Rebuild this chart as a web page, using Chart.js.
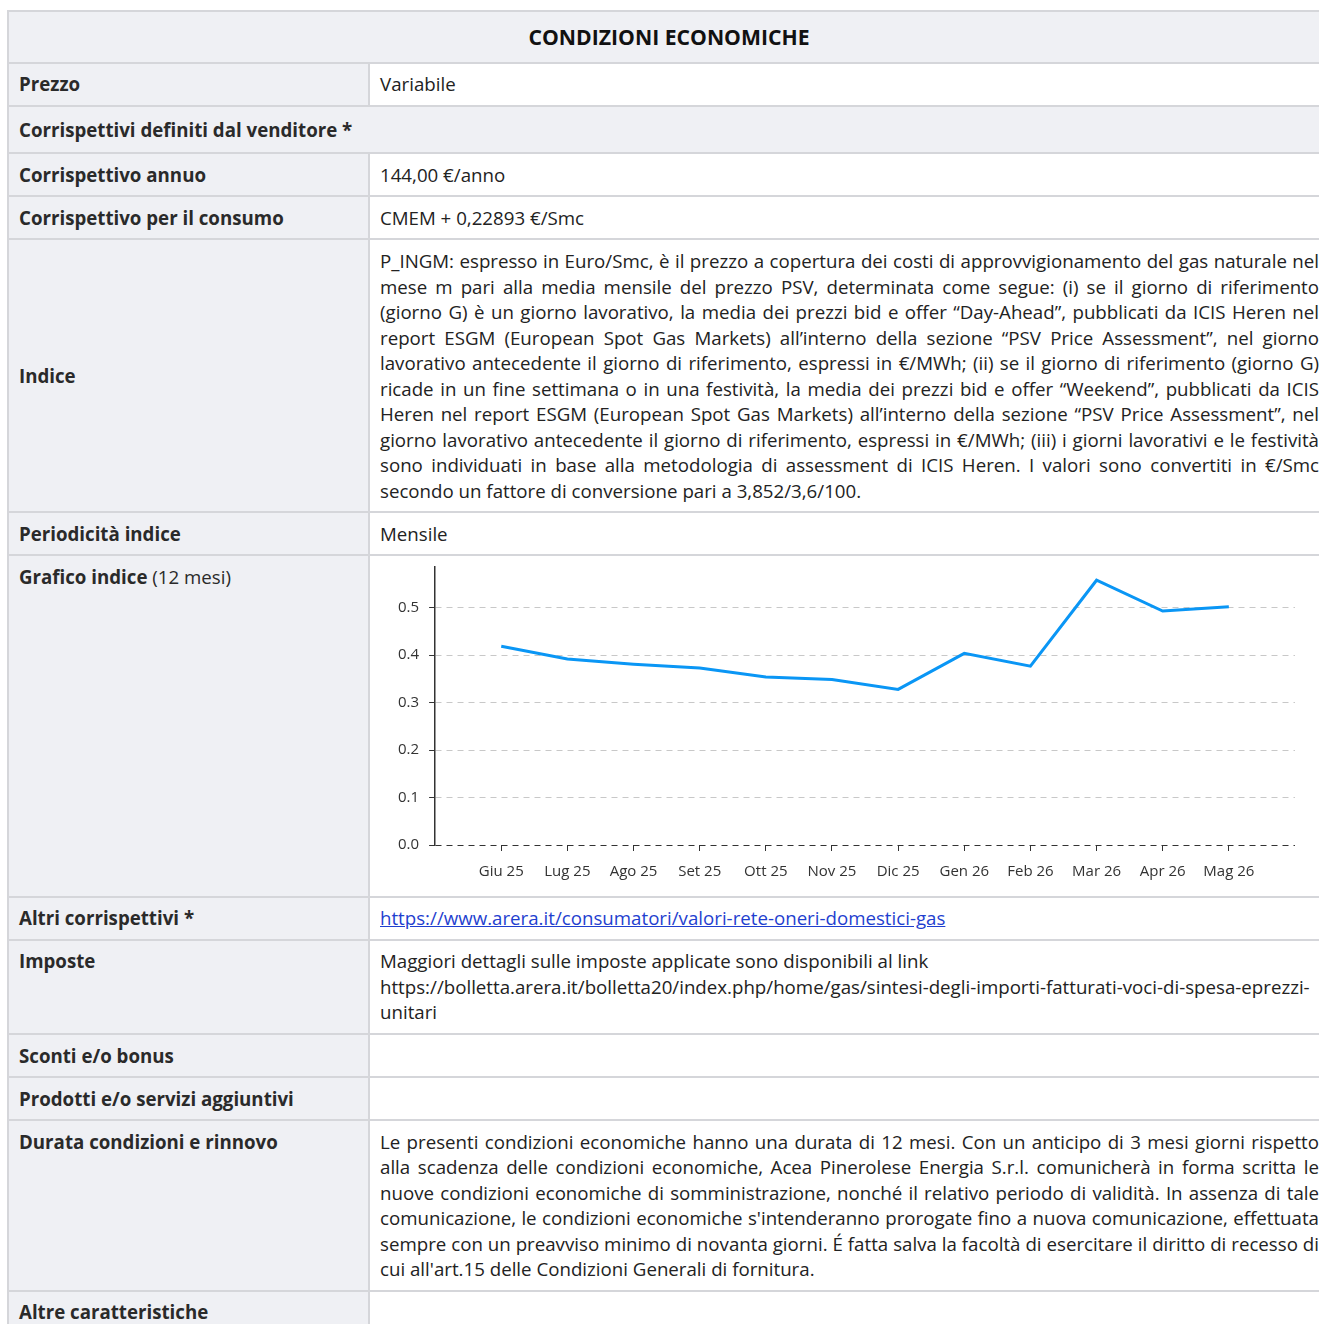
<!DOCTYPE html>
<html lang="it">
<head>
<meta charset="utf-8">
<title>Condizioni economiche</title>
<script src="https://cdn.jsdelivr.net/npm/chart.js@4.4.1/dist/chart.umd.min.js"></script>
<style>
  html, body { margin: 0; padding: 0; overflow: hidden; background: #fff; }
  body { font-family: "Open Sans", sans-serif; color: #222; font-size: 18.7px; line-height: 25.5px; }
  table { border-collapse: collapse; width: 1322px; margin: 10px 0 0 7px; table-layout: fixed; }
  col.c1 { width: 361px; }
  col.c2 { width: 961px; }
  td, th { border: 2px solid #d5d6da; padding: 7.8px 10px 7.8px 10px; vertical-align: top; text-align: left; }
  th.title { background: #eff0f4; text-align: center; font-size: 21.2px; font-weight: 700; padding: 12px 10px 12px; color: #111; }
  td.lbl { background: #eff0f4; font-weight: 700; color: #2a2a2a; }
  td.lbl span { font-weight: 400; }
  td.sect { background: #eff0f4; font-weight: 700; padding: 10px 10px 10px; color: #2a2a2a; }
  td.mid { vertical-align: middle; }
  .just { text-align: justify; }
  a { color: #1f3fcf; }
  .chartbox { position: relative; width: 939px; height: 324px; }
  .chartinner { position: absolute; left: 0; top: -16px; width: 939px; height: 349px; }
</style>
</head>
<body>
<table>
  <colgroup><col class="c1"><col class="c2"></colgroup>
  <tr><th class="title" colspan="2">CONDIZIONI ECONOMICHE</th></tr>
  <tr><td class="lbl">Prezzo</td><td>Variabile</td></tr>
  <tr><td class="sect" colspan="2">Corrispettivi definiti dal venditore *</td></tr>
  <tr><td class="lbl">Corrispettivo annuo</td><td>144,00 €/anno</td></tr>
  <tr><td class="lbl">Corrispettivo per il consumo</td><td>CMEM + 0,22893 €/Smc</td></tr>
  <tr><td class="lbl mid">Indice</td><td class="just">P_INGM: espresso in Euro/Smc, è il prezzo a copertura dei costi di approvvigionamento del gas naturale nel mese m pari alla media mensile del prezzo PSV, determinata come segue: (i) se il giorno di riferimento (giorno G) è un giorno lavorativo, la media dei prezzi bid e offer “Day-Ahead”, pubblicati da ICIS Heren nel report ESGM (European Spot Gas Markets) all’interno della sezione “PSV Price Assessment”, nel giorno lavorativo antecedente il giorno di riferimento, espressi in €/MWh; (ii) se il giorno di riferimento (giorno G) ricade in un fine settimana o in una festività, la media dei prezzi bid e offer “Weekend”, pubblicati da ICIS Heren nel report ESGM (European Spot Gas Markets) all’interno della sezione “PSV Price Assessment”, nel giorno lavorativo antecedente il giorno di riferimento, espressi in €/MWh; (iii) i giorni lavorativi e le festività sono individuati in base alla metodologia di assessment di ICIS Heren. I valori sono convertiti in €/Smc secondo un fattore di conversione pari a 3,852/3,6/100.</td></tr>
  <tr><td class="lbl">Periodicità indice</td><td>Mensile</td></tr>
  <tr><td class="lbl">Grafico indice <span>(12 mesi)</span></td><td><div class="chartbox"><div class="chartinner"><canvas id="c"></canvas></div></div></td></tr>
  <tr><td class="lbl">Altri corrispettivi *</td><td><a href="#">https://www.arera.it/consumatori/valori-rete-oneri-domestici-gas</a></td></tr>
  <tr><td class="lbl">Imposte</td><td>Maggiori dettagli sulle imposte applicate sono disponibili al link<br>https://bolletta.arera.it/bolletta20/index.php/home/gas/sintesi-degli-importi-fatturati-voci-di-spesa-eprezzi-unitari</td></tr>
  <tr><td class="lbl">Sconti e/o bonus</td><td></td></tr>
  <tr><td class="lbl">Prodotti e/o servizi aggiuntivi</td><td></td></tr>
  <tr><td class="lbl">Durata condizioni e rinnovo</td><td class="just">Le presenti condizioni economiche hanno una durata di 12 mesi. Con un anticipo di 3 mesi giorni rispetto alla scadenza delle condizioni economiche, Acea Pinerolese Energia S.r.l. comunicherà in forma scritta le nuove condizioni economiche di somministrazione, nonché il relativo periodo di validità. In assenza di tale comunicazione, le condizioni economiche s'intenderanno prorogate fino a nuova comunicazione, effettuata sempre con un preavviso minimo di novanta giorni. É fatta salva la facoltà di esercitare il diritto di recesso di cui all'art.15 delle Condizioni Generali di fornitura.</td></tr>
  <tr><td class="lbl">Altre caratteristiche</td><td></td></tr>
</table>
<script>
const months = ['Giu 25', 'Lug 25', 'Ago 25', 'Set 25', 'Ott 25', 'Nov 25', 'Dic 25', 'Gen 26', 'Feb 26', 'Mar 26', 'Apr 26', 'Mag 26'];
const indexValues = [0.419, 0.392, 0.381, 0.373, 0.354, 0.349, 0.328, 0.404, 0.377, 0.558, 0.493, 0.502];
const yTickStep = 0.1;

// padded category axis: an empty slot on each side of the 12 months
const labels = [''].concat(months, ['']);
const data = [null].concat(indexValues, [null]);
const lastIdx = labels.length - 1;

new Chart(document.getElementById('c'), {
  type: 'line',
  data: {
    labels: labels,
    datasets: [{
      label: 'Indice',
      data: data,
      borderColor: '#0a96f5',
      borderWidth: 3,
      pointRadius: 0,
      pointHoverRadius: 0,
      tension: 0,
      fill: false
    }]
  },
  options: {
    responsive: true,
    maintainAspectRatio: false,
    animation: false,
    layout: { padding: { left: 8, right: 24, top: 0, bottom: 4 } },
    plugins: { legend: { display: false }, tooltip: { enabled: false } },
    scales: {
      x: {
        offset: false,
        border: { display: false },
        grid: {
          drawOnChartArea: false,
          drawTicks: true,
          tickLength: 6,
          tickWidth: 1,
          tickColor: (ctx) => (ctx.index === 0 || ctx.index === lastIdx) ? 'rgba(0,0,0,0)' : '#333'
        },
        ticks: {
          autoSkip: false,
          maxRotation: 0,
          padding: 12,
          color: '#333',
          font: { family: 'Open Sans', size: 15 }
        }
      },
      y: {
        min: 0,
        max: Math.max(...indexValues) * 1.05,
        border: { display: true, color: '#333', width: 1.5, dash: [6, 5] },
        grid: {
          color: (ctx) => (ctx.tick && ctx.tick.value === 0) ? '#333' : '#c8c8c8',
          lineWidth: 1,
          drawTicks: true,
          tickLength: 6,
          tickColor: '#333',
          tickBorderDash: []
        },
        ticks: {
          stepSize: yTickStep,
          includeBounds: false,
          padding: 10,
          color: '#333',
          font: { family: 'Open Sans', size: 15 },
          callback: (v) => Number(v).toFixed(1)
        }
      }
    }
  }
});
</script>
</body>
</html>
